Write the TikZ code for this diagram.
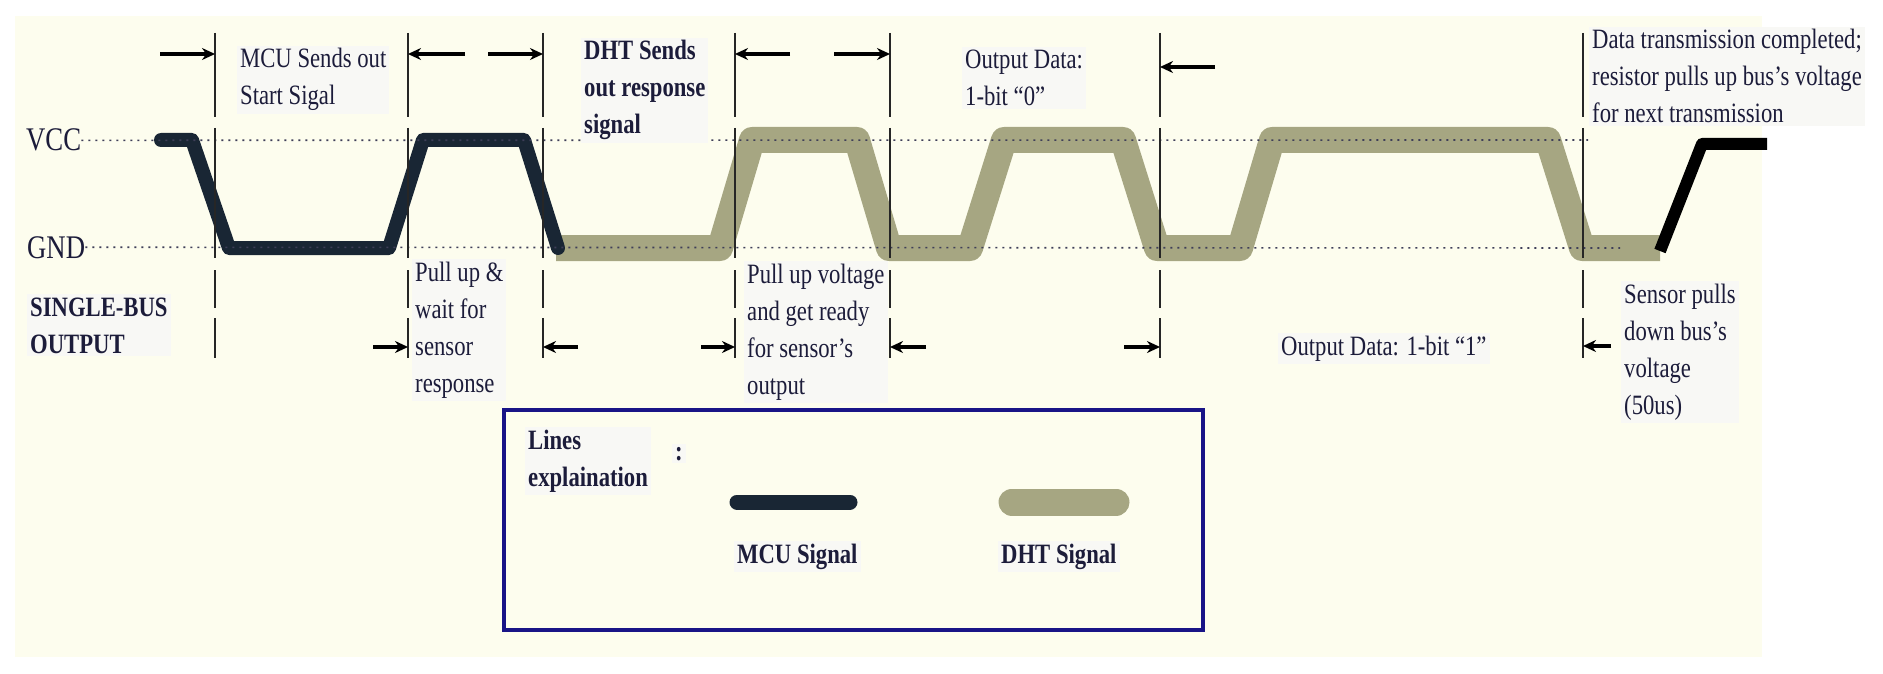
\documentclass[tikz,border=0pt]{standalone}
\usepackage{fontspec}
\setmainfont[FakeStretch=0.81]{Liberation Serif}
\usetikzlibrary{arrows.meta}
\definecolor{cream}{RGB}{253,253,238}
\definecolor{boxbg}{RGB}{248,248,245}
\definecolor{ink}{RGB}{28,28,58}
\definecolor{mcublue}{RGB}{25,38,52}
\definecolor{dhtolive}{RGB}{166,166,130}
\definecolor{framenavy}{RGB}{25,20,135}

\begin{document}
\begin{tikzpicture}[x=1pt,y=-1pt,
    lbl/.style={anchor=base west,align=left,inner sep=3pt,fill=boxbg,text=ink,
      font=\fontsize{28}{37}\selectfont},
    lblb/.style={lbl,font=\fontsize{28}{37}\selectfont\bfseries},
    level/.style={anchor=base west,inner sep=0pt,text=ink,font=\fontsize{33}{37}\selectfont},
    mcu/.style={draw=mcublue,line width=14pt,line join=round,line cap=round},
    dht/.style={draw=dhtolive,line width=26pt,line join=round},
    ref/.style={draw=ink!85,line width=1.6pt,dash pattern=on 2pt off 5pt},
    guide/.style={draw=black!85,line width=1.8pt,
      dash pattern=on 84pt off 11pt on 130pt off 12pt on 38pt off 10pt on 40pt off 40pt},
    dim/.style={draw=black,line width=4pt,-{Stealth[length=13pt,width=12pt]}}]
  \useasboundingbox (0,0) rectangle (1883,674);
  \fill[white] (0,0) rectangle (1883,674);
  \fill[cream] (15,16) rectangle (1762,657);

  % signals on the bus
  \draw[dht] (556,248) -- (720,248) -- (752,140) -- (857,140) -- (889,248) -- (970,248)
    -- (1004,140) -- (1123,140) -- (1157,248) -- (1240,248) -- (1272,140) -- (1548,140)
    -- (1582,248) -- (1660,248);
  \draw[mcu] (161,140) -- (192,140) -- (229,248) -- (389,248) -- (423,140) -- (524,140) -- (558,248);
  \draw[mcu,draw=black,line width=12pt,line cap=butt] (1660,251) -- (1702,144) -- (1767,144);

  % levels
  \node[level] (vcc) at (26,151) {VCC};
  \node[level] (gnd) at (27,258) {GND};
  \coordinate (vccend) at (1588,140);
  \coordinate (gndend) at (1620,248);
  \draw[ref] (vcc) -- (vccend);
  \draw[ref] (gnd) -- (gndend);

  % time marks
  \foreach \n/\x in {1/215,2/408,3/543,4/735,5/890,6/1160,7/1583}
    \draw[guide] (\x,33) coordinate (g\n) -- (\x,358);

  \coordinate (a1) at (160,54);  \draw[dim] (a1) -- (a1 -| g1);
  \coordinate (a2) at (465,54);  \draw[dim] (a2) -- (a2 -| g2);
  \coordinate (a3) at (488,54);  \draw[dim] (a3) -- (a3 -| g3);
  \coordinate (a4) at (790,54);  \draw[dim] (a4) -- (a4 -| g4);
  \coordinate (a5) at (834,54);  \draw[dim] (a5) -- (a5 -| g5);
  \coordinate (a6) at (1215,67); \draw[dim] (a6) -- (a6 -| g6);
  \coordinate (b1) at (373,347); \draw[dim] (b1) -- (b1 -| g2);
  \coordinate (b2) at (578,347); \draw[dim] (b2) -- (b2 -| g3);
  \coordinate (b3) at (701,347); \draw[dim] (b3) -- (b3 -| g4);
  \coordinate (b4) at (926,347); \draw[dim] (b4) -- (b4 -| g5);
  \coordinate (b5) at (1124,347); \draw[dim] (b5) -- (b5 -| g6);
  \coordinate (b6) at (1611,346); \draw[dim] (b6) -- (b6 -| g7);

  % labels (base = last line)
  \node[lbl] (start) at (237,105) {MCU Sends out\\Start Sigal};
  \node[lblb] (resp) at (581,134) {DHT Sends\\out response\\signal};
  \node[lbl] (zero) at (962,106) {Output Data:\\1-bit “0”};
  \node[lbl] (done) at (1589,123) {Data transmission completed;\\resistor pulls up bus’s voltage\\for next transmission};
  \node[lblb] (bus) at (27,353) {SINGLE-BUS\\OUTPUT};
  \node[lbl] (wait) at (412,392) {Pull up \&\\wait for\\sensor\\response};
  \node[lbl] (ready) at (744,394) {Pull up voltage\\and get ready\\for sensor's\\output};
  \node[lbl] (one) at (1278,355) {Output Data: 1-bit “1”};
  \node[lbl] (down) at (1621,414) {Sensor pulls\\down bus’s\\voltage\\(50us)};

  % legend
  \node[draw=framenavy,line width=4pt,fill=cream,anchor=north west,
    minimum width=699pt,minimum height=220pt] (legend) at (502,408) {};
  \node[lblb] (lines) at (525,486) {Lines\\explaination};
  \node[lblb] (colon) at (672,460) {:};
  \draw[mcu,line width=15pt] (737,502) -- (850,502);
  \draw[dht,line width=27pt,line cap=round] (1012,502) -- (1116,502);
  \node[lblb] (mcukey) at (734,563) {MCU Signal};
  \node[lblb] (dhtkey) at (998,563) {DHT Signal};
\end{tikzpicture}
\end{document}
